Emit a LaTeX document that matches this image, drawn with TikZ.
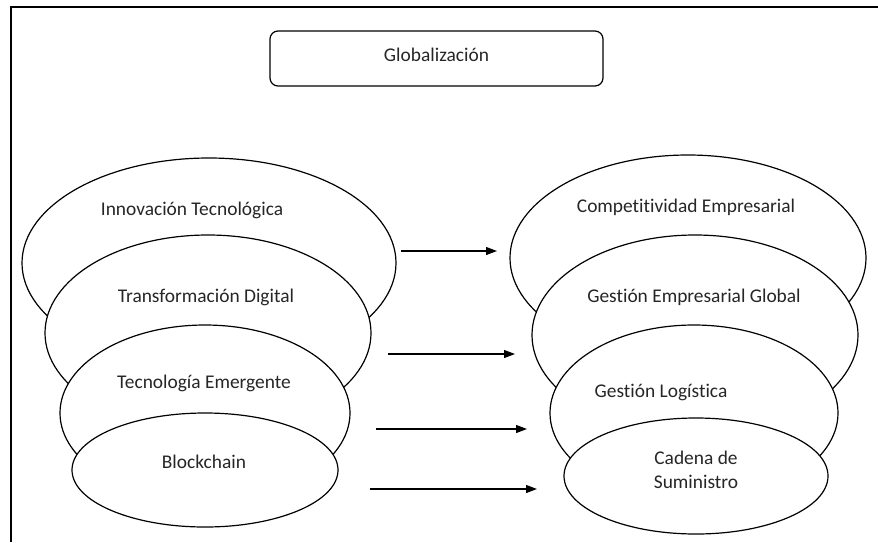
\documentclass[tikz,border=0pt]{standalone}
\usepackage{fontspec}
\setmainfont{Carlito}[Ligatures=NoCommon]
\usetikzlibrary{shapes.geometric,arrows.meta}
\tikzstyle{bubble}=[ellipse, draw, fill=white, inner sep=0pt, line width=1.2pt]
\tikzstyle{word}=[font=\fontsize{19.4}{24.5}\selectfont, align=center, inner sep=0pt, text=black!85]
\tikzstyle{headbox}=[rectangle, draw, rounded corners=8pt, line width=1.2pt, minimum width=333pt, minimum height=55pt, font=\fontsize{19.4}{24.5}\selectfont, text=black!85, text depth=8pt]
\tikzstyle{flow}=[-{Triangle[length=11pt,width=8pt]}, line width=1.2pt]
\newcommand{\bubble}{\node[bubble]}
\newcommand{\bubtext}{\node[word]}

\begin{document}
\begin{tikzpicture}[x=1pt,y=-1pt]
            \useasboundingbox (0,0) rectangle (878,542);
            \draw[line width=1.6pt] (11,542) -- (11,7) -- (878,7);
            \node[headbox] (glob) at (436.5,58.5) {Globalización};
            % left column
            \bubble[minimum width=374pt, minimum height=210pt] (e1) at (209,263) {};
            \bubtext (t1) at (192,210) {Innovación Tecnológica};
            \bubble[minimum width=326pt, minimum height=196pt] (e2) at (208,333) {};
            \bubtext (t2) at (206,297) {Transformación Digital};
            \bubble[minimum width=290pt, minimum height=176pt] (e3) at (205,413) {};
            \bubtext (t3) at (204,383) {Tecnología Emergente};
            \bubble[minimum width=266pt, minimum height=114pt] (e4) at (205,470) {};
            \bubtext (t4) at (204,462) {Blockchain};
            % right column
            \bubble[minimum width=356pt, minimum height=206pt] (r1) at (688,258) {};
            \bubtext (u1) at (686,207) {Competitividad Empresarial};
            \bubble[minimum width=326pt, minimum height=200pt] (r2) at (695,335) {};
            \bubtext (u2) at (694,297) {Gestión Empresarial Global};
            \bubble[minimum width=288pt, minimum height=176pt] (r3) at (694,413) {};
            \bubtext (u3) at (661,392) {Gestión Logística};
            \bubble[minimum width=264pt, minimum height=116pt] (r4) at (696,476) {};
            \bubtext (u4) at (696,470) {Cadena de\\Suministro};
            % arrows
            \coordinate (s1) at (401,251);
            \coordinate (f1) at (497,251);
            \coordinate (s2) at (388,354);
            \coordinate (f2) at (515,354);
            \coordinate (s3) at (376,429);
            \coordinate (f3) at (527,429);
            \coordinate (s4) at (370,489);
            \coordinate (f4) at (537,489);
            \path[flow]
                (s1) edge (f1)
                (s2) edge (f2)
                (s3) edge (f3)
                (s4) edge (f4)
            ;
        \end{tikzpicture}
\end{document}
